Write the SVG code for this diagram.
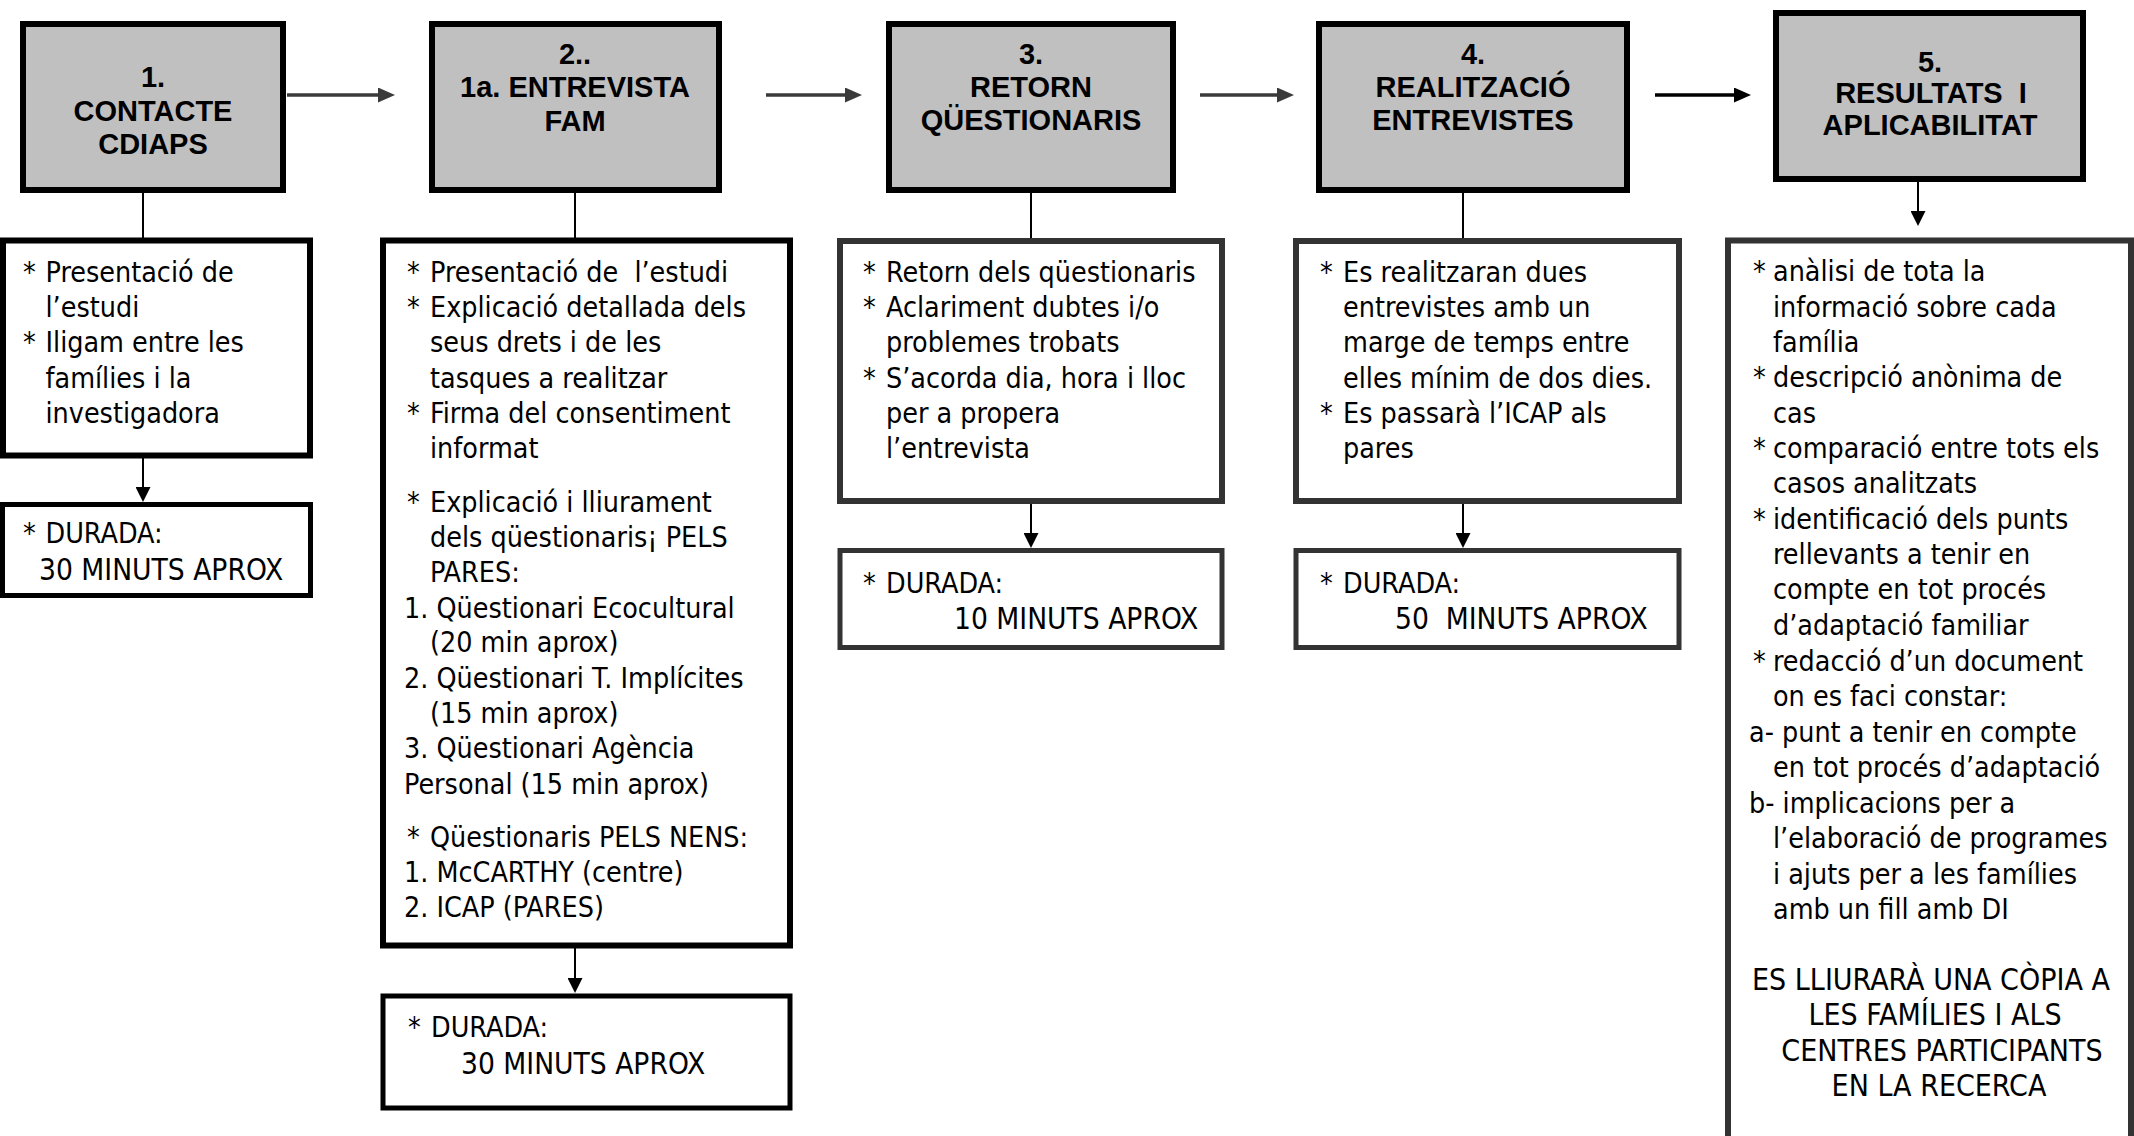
<svg xmlns="http://www.w3.org/2000/svg" width="2134" height="1136" viewBox="0 0 2134 1136">
  <style>
    .hdr { fill: #c0c0c0; stroke: #000; stroke-width: 6; }
    .box { fill: #fff; stroke: #000; stroke-width: 6; }
    .box.g { stroke: #333; }
    .dur { fill: #fff; stroke: #000; stroke-width: 5; }
    .dur.g { stroke: #333; }
    .ht { font-family: "Liberation Sans", Arial, sans-serif; font-weight: bold; font-size: 29px; text-anchor: middle; fill: #000; white-space: pre; }
    .bt { font-family: "DejaVu Sans Condensed", "DejaVu Sans", sans-serif; font-size: 28.4px; fill: #000; white-space: pre; }
    .cap { font-size: 29.6px; }
    .note { font-family: "DejaVu Sans Condensed", "DejaVu Sans", sans-serif; font-size: 30px; fill: #000; text-anchor: middle; }
    .link { stroke: #000; stroke-width: 2; fill: none; }
    .flow { stroke: #3a3a3a; stroke-width: 3.5; fill: none; }
    .flow.k { stroke: #000; }
  </style>
  <defs>
    <marker id="head-flow" markerUnits="userSpaceOnUse" markerWidth="17" markerHeight="15" refX="2" refY="7.5" orient="auto">
      <path d="M0,0 L17,7.5 L0,15 z" fill="#3a3a3a"/>
    </marker>
    <marker id="head-flow-k" markerUnits="userSpaceOnUse" markerWidth="17" markerHeight="15" refX="2" refY="7.5" orient="auto">
      <path d="M0,0 L17,7.5 L0,15 z" fill="#000"/>
    </marker>
    <marker id="head-down" markerUnits="userSpaceOnUse" markerWidth="15" markerHeight="15" refX="2" refY="7.5" orient="auto">
      <path d="M0,0 L15,7.5 L0,15 z" fill="#000"/>
    </marker>
  </defs>

  <rect width="2134" height="1136" fill="#fff"/>

  <!-- connectors -->
  <g id="connectors">
    <!-- step to step -->
    <line class="flow" x1="287" y1="95" x2="380" y2="95" marker-end="url(#head-flow)"/>
    <line class="flow" x1="766" y1="95" x2="847" y2="95" marker-end="url(#head-flow)"/>
    <line class="flow" x1="1200" y1="95" x2="1279" y2="95" marker-end="url(#head-flow)"/>
    <line class="flow k" x1="1655" y1="95" x2="1736" y2="95" marker-end="url(#head-flow-k)"/>
    <!-- step to description -->
    <line class="link" x1="143" y1="193" x2="143" y2="238"/>
    <line class="link" x1="575" y1="193" x2="575" y2="238"/>
    <line class="link" x1="1031" y1="193" x2="1031" y2="238"/>
    <line class="link" x1="1463" y1="193" x2="1463" y2="238"/>
    <line class="link" x1="1918" y1="182" x2="1918" y2="213" marker-end="url(#head-down)"/>
    <!-- description to duration -->
    <line class="link" x1="143" y1="458" x2="143" y2="489" marker-end="url(#head-down)"/>
    <line class="link" x1="575" y1="948" x2="575" y2="980" marker-end="url(#head-down)"/>
    <line class="link" x1="1031" y1="503" x2="1031" y2="535" marker-end="url(#head-down)"/>
    <line class="link" x1="1463" y1="503" x2="1463" y2="535" marker-end="url(#head-down)"/>
  </g>

  <!-- 1. contact -->
  <g id="step1">
    <rect class="hdr" x="23" y="24" width="260" height="166"/>
    <text class="ht" x="153" y="87">1.</text>
    <text class="ht" x="153" y="121">CONTACTE</text>
    <text class="ht" x="153" y="154">CDIAPS</text>
  </g>
  <g id="step1-desc">
    <rect class="box" x="3" y="240.5" width="307" height="215"/>
    <text class="bt">
      <tspan x="23" y="281.5">* </tspan><tspan x="45.5">Presentació de</tspan>
      <tspan x="45.5" y="317">l’estudi</tspan>
      <tspan x="23" y="352">* </tspan><tspan x="45.5">Iligam entre les</tspan>
      <tspan x="45.5" y="388">famílies i la</tspan>
      <tspan x="45.5" y="423">investigadora</tspan>
    </text>
  </g>
  <g id="step1-time">
    <rect class="dur" x="2.5" y="504.5" width="308" height="91"/>
    <text class="bt">
      <tspan x="23" y="543">* </tspan><tspan x="45.5">DURADA:</tspan>
      <tspan class="cap" x="39" y="580">30 MINUTS APROX</tspan>
    </text>
  </g>

  <!-- 2. first family interview -->
  <g id="step2">
    <rect class="hdr" x="432" y="24" width="287" height="166"/>
    <text class="ht" x="575" y="64">2..</text>
    <text class="ht" x="575" y="97">1a. ENTREVISTA</text>
    <text class="ht" x="575" y="131">FAM</text>
  </g>
  <g id="step2-desc">
    <rect class="box" x="383" y="240.5" width="407" height="705"/>
    <text class="bt">
      <tspan x="407" y="281.5">* </tspan><tspan x="430">Presentació de  l’estudi</tspan>
      <tspan x="407" y="317">* </tspan><tspan x="430">Explicació detallada dels</tspan>
      <tspan x="430" y="352">seus drets i de les</tspan>
      <tspan x="430" y="388">tasques a realitzar</tspan>
      <tspan x="407" y="423">* </tspan><tspan x="430">Firma del consentiment</tspan>
      <tspan x="430" y="458">informat</tspan>
      <tspan x="407" y="511.5">* </tspan><tspan x="430">Explicació i lliurament</tspan>
      <tspan x="430" y="546.5">dels qüestionaris¡ PELS</tspan>
      <tspan x="430" y="581.5">PARES:</tspan>
      <tspan x="404" y="617.5">1. Qüestionari Ecocultural</tspan>
      <tspan x="430" y="652">(20 min aprox)</tspan>
      <tspan x="404" y="688">2. Qüestionari T. Implícites</tspan>
      <tspan x="430" y="723">(15 min aprox)</tspan>
      <tspan x="404" y="758">3. Qüestionari Agència</tspan>
      <tspan x="404" y="794">Personal (15 min aprox)</tspan>
      <tspan x="407" y="847">* </tspan><tspan x="430">Qüestionaris PELS NENS:</tspan>
      <tspan x="404" y="882">1. McCARTHY (centre)</tspan>
      <tspan x="404" y="917">2. ICAP (PARES)</tspan>
    </text>
  </g>
  <g id="step2-time">
    <rect class="dur" x="383" y="996" width="407" height="112"/>
    <text class="bt">
      <tspan x="408" y="1037">* </tspan><tspan x="431">DURADA:</tspan>
      <tspan class="cap" x="461" y="1074">30 MINUTS APROX</tspan>
    </text>
  </g>

  <!-- 3. questionnaire return -->
  <g id="step3">
    <rect class="hdr" x="889" y="24" width="284" height="166"/>
    <text class="ht" x="1031" y="64">3.</text>
    <text class="ht" x="1031" y="97">RETORN</text>
    <text class="ht" x="1031" y="130">QÜESTIONARIS</text>
  </g>
  <g id="step3-desc">
    <rect class="box g" x="840" y="241" width="382" height="260"/>
    <text class="bt">
      <tspan x="863" y="281.5">* </tspan><tspan x="886">Retorn dels qüestionaris</tspan>
      <tspan x="863" y="317">* </tspan><tspan x="886">Aclariment dubtes i/o</tspan>
      <tspan x="886" y="352">problemes trobats</tspan>
      <tspan x="863" y="388">* </tspan><tspan x="886">S’acorda dia, hora i lloc</tspan>
      <tspan x="886" y="423">per a propera</tspan>
      <tspan x="886" y="458">l’entrevista</tspan>
    </text>
  </g>
  <g id="step3-time">
    <rect class="dur g" x="840" y="550.5" width="382" height="97"/>
    <text class="bt">
      <tspan x="863" y="593">* </tspan><tspan x="886">DURADA:</tspan>
      <tspan class="cap" x="954" y="629">10 MINUTS APROX</tspan>
    </text>
  </g>

  <!-- 4. interviews -->
  <g id="step4">
    <rect class="hdr" x="1319" y="24" width="308" height="166"/>
    <text class="ht" x="1473" y="64">4.</text>
    <text class="ht" x="1473" y="97">REALITZACIÓ</text>
    <text class="ht" x="1473" y="130">ENTREVISTES</text>
  </g>
  <g id="step4-desc">
    <rect class="box g" x="1296" y="241" width="383" height="260"/>
    <text class="bt">
      <tspan x="1320" y="281.5">* </tspan><tspan x="1343">Es realitzaran dues</tspan>
      <tspan x="1343" y="317">entrevistes amb un</tspan>
      <tspan x="1343" y="352">marge de temps entre</tspan>
      <tspan x="1343" y="388">elles mínim de dos dies.</tspan>
      <tspan x="1320" y="423">* </tspan><tspan x="1343">Es passarà l’ICAP als</tspan>
      <tspan x="1343" y="458">pares</tspan>
    </text>
  </g>
  <g id="step4-time">
    <rect class="dur g" x="1296" y="550.5" width="383" height="97"/>
    <text class="bt">
      <tspan x="1320" y="593">* </tspan><tspan x="1343">DURADA:</tspan>
      <tspan class="cap" x="1395" y="629">50  MINUTS APROX</tspan>
    </text>
  </g>

  <!-- 5. results -->
  <g id="step5">
    <rect class="hdr" x="1776" y="13" width="307" height="166"/>
    <text class="ht" x="1930" y="72">5.</text>
    <text class="ht" x="1931" y="103">RESULTATS  I</text>
    <text class="ht" x="1930" y="135">APLICABILITAT</text>
  </g>
  <g id="step5-desc">
    <rect class="box g" x="1728" y="240.5" width="403" height="1000"/>
    <text class="bt">
      <tspan x="1753" y="281">* </tspan><tspan x="1773">anàlisi de tota la</tspan>
      <tspan x="1773" y="316.5">informació sobre cada</tspan>
      <tspan x="1773" y="352">família</tspan>
      <tspan x="1753" y="387">* </tspan><tspan x="1773">descripció anònima de</tspan>
      <tspan x="1773" y="422.5">cas</tspan>
      <tspan x="1753" y="458">* </tspan><tspan x="1773">comparació entre tots els</tspan>
      <tspan x="1773" y="493">casos analitzats</tspan>
      <tspan x="1753" y="528.5">* </tspan><tspan x="1773">identificació dels punts</tspan>
      <tspan x="1773" y="564">rellevants a tenir en</tspan>
      <tspan x="1773" y="599">compte en tot procés</tspan>
      <tspan x="1773" y="634.5">d’adaptació familiar</tspan>
      <tspan x="1753" y="670.5">* </tspan><tspan x="1773">redacció d’un document</tspan>
      <tspan x="1773" y="706">on es faci constar:</tspan>
      <tspan x="1749" y="741.5">a- punt a tenir en compte</tspan>
      <tspan x="1773" y="777">en tot procés d’adaptació</tspan>
      <tspan x="1749" y="812.5">b- implicacions per a</tspan>
      <tspan x="1773" y="848">l’elaboració de programes</tspan>
      <tspan x="1773" y="883.5">i ajuts per a les famílies</tspan>
      <tspan x="1773" y="919">amb un fill amb DI</tspan>
    </text>
    <text class="note" x="1931" y="990">ES LLIURARÀ UNA CÒPIA A</text>
    <text class="note" x="1935" y="1025">LES FAMÍLIES I ALS</text>
    <text class="note" x="1942" y="1061">CENTRES PARTICIPANTS</text>
    <text class="note" x="1939" y="1096">EN LA RECERCA</text>
  </g>
</svg>
